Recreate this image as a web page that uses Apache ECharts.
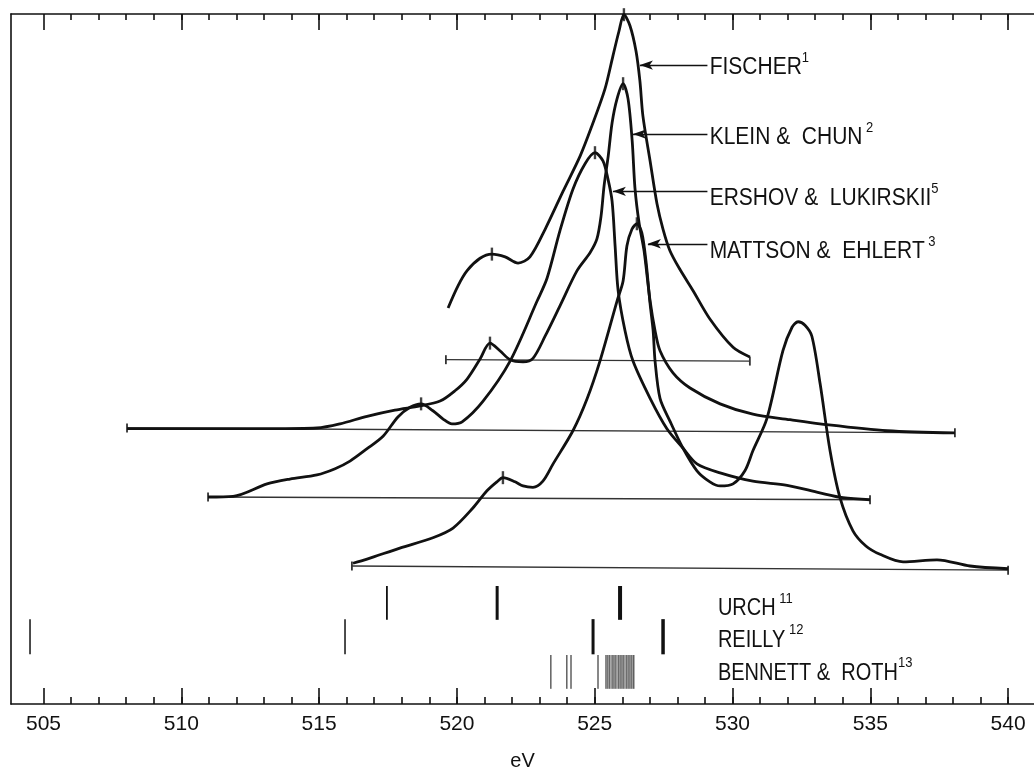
<!DOCTYPE html>
<html>
<head>
<meta charset="utf-8">
<script src="https://cdn.jsdelivr.net/npm/echarts@6/dist/echarts.min.js"></script>
<style>
  html, body { margin: 0; padding: 0; background: #fff; }
  #chart { width: 1034px; height: 770px; }
</style>
</head>
<body>
<div id="chart"></div>
<script>
// energy (eV) vs relative intensity (arbitrary units, 0..100 over the frame)
const fischer = [
  [519.68, 57.4], [520.04, 60.6], [520.37, 62.8], [520.84, 64.6], [521.27, 65.2],
  [521.75, 64.8], [522.22, 63.9], [522.65, 64.8], [523.20, 68.8], [523.85, 74.3],
  [524.47, 79.4], [524.90, 83.8], [525.37, 89.1], [525.66, 93.9], [525.88, 97.5],
  [526.06, 99.9], [526.28, 98.3], [526.50, 94.6], [526.64, 90.3], [526.75, 85.2],
  [527.01, 78.7], [527.26, 72.5], [527.48, 68.8], [527.73, 65.7], [528.09, 63.0],
  [528.57, 59.9], [529.18, 55.8], [530.02, 51.7], [530.63, 50.3]
];
const kleinChun = [
  [508.03, 39.9], [510.68, 39.9], [513.22, 39.9], [514.92, 40.0], [515.76, 40.6],
  [516.74, 41.7], [517.75, 42.6], [518.66, 43.2], [519.39, 43.9], [519.93, 45.4],
  [520.37, 47.1], [520.84, 50.0], [521.20, 52.3], [521.56, 51.2], [521.93, 49.9],
  [522.40, 49.6], [522.76, 50.1], [523.20, 53.3], [523.74, 57.7], [524.36, 62.8],
  [524.83, 65.4], [525.08, 67.4], [525.23, 70.7], [525.34, 75.1], [525.49, 79.4],
  [525.63, 84.2], [525.81, 87.7], [526.03, 89.9], [526.21, 87.7], [526.36, 81.6],
  [526.46, 74.8], [526.61, 69.7], [526.79, 65.7], [527.01, 58.4], [527.19, 54.1],
  [527.37, 51.2], [527.84, 48.0], [528.46, 45.8], [529.55, 43.5], [530.74, 42.0],
  [532.09, 41.2], [533.17, 40.6], [535.61, 39.6], [538.07, 39.3]
];
const ershov = [
  [510.97, 30.0], [511.88, 30.1], [513.11, 31.9], [513.94, 32.6], [514.92, 33.2],
  [515.58, 34.1], [516.12, 35.2], [516.74, 37.0], [517.32, 38.8], [517.86, 41.6],
  [518.30, 43.0], [518.70, 43.5], [519.13, 42.5], [519.50, 41.3], [519.82, 40.6],
  [520.19, 40.9], [520.95, 43.9], [521.93, 49.7], [522.91, 58.4], [523.27, 61.7],
  [523.74, 68.6], [524.21, 74.6], [524.65, 78.3], [525.01, 79.9], [525.30, 78.7],
  [525.48, 76.1], [525.63, 72.9], [525.74, 66.4], [525.85, 59.9], [526.10, 54.1],
  [526.39, 49.7], [527.01, 44.3], [527.62, 39.9], [528.20, 37.1], [528.71, 34.8],
  [529.55, 33.5], [530.74, 32.3], [531.98, 31.7], [533.17, 30.6], [534.01, 29.9],
  [534.99, 29.6]
];
const mattson = [
  [516.23, 20.4], [516.74, 21.0], [517.93, 22.6], [519.13, 24.1], [519.86, 25.5],
  [520.58, 28.4], [521.09, 30.9], [521.45, 32.2], [521.67, 32.8], [522.11, 32.2],
  [522.40, 31.6], [522.76, 31.4], [523.12, 32.3], [523.49, 34.8], [524.21, 39.6],
  [524.72, 44.2], [525.19, 49.7], [525.81, 58.4], [526.03, 61.3], [526.17, 66.4],
  [526.35, 68.8], [526.53, 69.6], [526.71, 68.3], [526.86, 64.2], [527.01, 58.0],
  [527.12, 54.1], [527.19, 49.7], [527.37, 44.3], [527.73, 41.0], [528.20, 37.1],
  [528.71, 33.8], [529.18, 32.2], [529.55, 31.6], [530.02, 31.9], [530.45, 33.8],
  [530.74, 36.7], [531.25, 41.4], [531.83, 51.2], [532.16, 54.6], [532.38, 55.4],
  [532.63, 54.9], [532.88, 53.3], [533.18, 46.4], [533.54, 36.7], [533.90, 29.9],
  [534.37, 25.1], [534.84, 22.9], [535.35, 21.7], [536.19, 20.6], [537.42, 20.9],
  [538.62, 20.0], [540.00, 19.6]
];

// zero lines of each trace
const baseFischer = [[519.60, 49.9], [530.63, 49.7]];
const baseKlein = [[508.03, 40.0], [538.07, 39.3]];
const baseErshov = [[510.97, 30.0], [534.99, 29.6]];
const baseMattson = [[516.19, 20.0], [540.00, 19.4]];

// peak positions marked on the traces
const peakMarks = [
  [526.06, 99.9], [521.27, 65.2],
  [526.03, 89.9], [521.20, 52.3],
  [525.01, 79.9], [518.70, 43.5],
  [526.53, 69.6], [521.67, 32.8]
];

// line positions (eV)
const urchLines = [517.46, 521.46, 525.92];
const reillyLines = [504.51, 515.94, 524.94, 527.48];
const bennettLines = [523.41, 523.99, 524.14, 525.12,
  525.41, 525.48, 525.55, 525.63, 525.70, 525.77, 525.85, 525.92,
  525.99, 526.06, 526.14, 526.21, 526.28, 526.35, 526.42];

// labelled arrows: name, superscript, arrow tip (eV), level
const traceNames = ['FISCHER', 'KLEIN &  CHUN', 'ERSHOV &  LUKIRSKII', 'MATTSON &  EHLERT'];
const traceRefs = ['1', ' 2', '5', ' 3'];
const arrowTips = [526.64, 526.39, 525.66, 526.93];
const arrowLevels = [92.6, 82.6, 74.3, 66.7];
const lineNames = ['URCH', 'REILLY', 'BENNETT &  ROTH'];
const lineRefs = [' 11', ' 12', '13'];

const majorTicks = [505, 510, 515, 520, 525, 530, 535, 540];
const minorTicks = [];
for (let e = 506; e <= 540; e++) minorTicks.push(e);

const minX = 503.82, maxX = 540.94;
const ink = '#111';
const font = 'Liberation Sans, Arial, sans-serif';

function xAxisDef(position, ticks, len, withLine, withLabel) {
  return {
    type: 'value', position: position, min: minX, max: maxX,
    axisLine: { show: withLine, onZero: false, lineStyle: { color: ink, width: 1.6 } },
    axisTick: { show: true, inside: true, length: len, customValues: ticks,
      lineStyle: { color: ink, width: 1.6 } },
    axisLabel: withLabel
      ? { show: true, customValues: ticks, fontSize: 21, color: ink, fontFamily: font, margin: 10 }
      : { show: false },
    splitLine: { show: false }
  };
}

function curve(name, data) {
  return { type: 'line', name: name, data: data, smooth: 0.3, showSymbol: false,
    lineStyle: { color: ink, width: 2.8 }, silent: true, animation: false, z: 3 };
}

function baseline(data) {
  return { type: 'line', data: data, symbol: 'rect', symbolSize: [1.8, 9], showSymbol: true,
    lineStyle: { color: '#333', width: 1.3 }, itemStyle: { color: '#333' },
    silent: true, animation: false, z: 2 };
}

function sticks(name, energies, lo, hi, widths) {
  return {
    type: 'custom', name: name, data: energies.map(e => [e, lo, hi]),
    encode: { x: 0, y: [1, 2] }, silent: true, animation: false,
    renderItem: function (params, api) {
      const a = api.coord([api.value(0), api.value(1)]);
      const b = api.coord([api.value(0), api.value(2)]);
      return { type: 'line', shape: { x1: a[0], y1: a[1], x2: b[0], y2: b[1] },
        style: { stroke: ink, lineWidth: widths[params.dataIndex] || 1 } };
    }
  };
}

const chart = echarts.init(document.getElementById('chart'));

const xMain = xAxisDef('bottom', majorTicks, 16, true, true);
xMain.name = 'eV';
xMain.nameLocation = 'middle';
xMain.nameGap = 47;
xMain.nameTextStyle = { fontSize: 20, color: ink, fontFamily: font };

chart.setOption({
  animation: false,
  backgroundColor: '#fff',
  grid: { left: 11, right: 0, top: 14, bottom: 66, outerBoundsMode: 'none', containLabel: false },
  xAxis: [
    xMain,
    xAxisDef('bottom', minorTicks, 7, false, false),
    xAxisDef('top', majorTicks, 16, true, false),
    xAxisDef('top', minorTicks, 6, false, false)
  ],
  yAxis: {
    type: 'value', min: 0, max: 100,
    axisLine: { show: true, onZero: false, lineStyle: { color: ink, width: 1.6 } },
    axisTick: { show: false }, axisLabel: { show: false }, splitLine: { show: false }
  },
  series: [
    baseline(baseFischer), baseline(baseKlein), baseline(baseErshov), baseline(baseMattson),
    curve('Fischer', fischer), curve('Klein & Chun', kleinChun),
    curve('Ershov & Lukirskii', ershov), curve('Mattson & Ehlert', mattson),
    {
      type: 'scatter', data: peakMarks, symbol: 'rect', symbolSize: [2.4, 13],
      itemStyle: { color: ink }, silent: true, animation: false, z: 4
    },
    {
      type: 'line', data: [], silent: true, animation: false,
      markLine: {
        silent: true, animation: false,
        symbol: ['arrow', 'none'], symbolSize: [7, 13],
        lineStyle: { color: ink, width: 1.4, type: 'solid' },
        label: { show: false },
        data: arrowTips.map((x, i) => [
          { coord: [x, arrowLevels[i]] },
          { coord: [529.09, arrowLevels[i]] }
        ])
      }
    },
    sticks('Urch', urchLines, 12.2, 17.1, [1.8, 3, 4]),
    sticks('Reilly', reillyLines, 7.2, 12.3, [1.5, 1.5, 3, 3.5]),
    sticks('Bennett & Roth', bennettLines, 2.2, 7.1, bennettLines.map(() => 1))
  ]
});

// text labels placed next to the arrows and line lists
function labelText(x, v, name, ref, size) {
  const p = chart.convertToPixel({ xAxisIndex: 0, yAxisIndex: 0 }, [x, v]);
  return {
    type: 'text', x: p[0], y: p[1], scaleY: 1.18, silent: true,
    style: {
      text: '{m|' + name + '}{s|' + ref + '}',
      fill: ink, align: 'left', verticalAlign: 'middle',
      rich: {
        m: { fontSize: size, fontFamily: font, lineHeight: 25, verticalAlign: 'bottom', fill: ink },
        s: { fontSize: 13, fontFamily: font, lineHeight: 13, verticalAlign: 'top', fill: ink }
      }
    }
  };
}

const labelLevels = [92.6, 82.5, 73.7, 66.0];
const listLevels = [14.2, 9.7, 4.9];
const graphics = [];
traceNames.forEach((n, i) => graphics.push(labelText(529.17, labelLevels[i], n, traceRefs[i], 21)));
lineNames.forEach((n, i) => graphics.push(labelText(529.47, listLevels[i], n, lineRefs[i], 20)));
chart.setOption({ graphic: graphics });
</script>
</body>
</html>
